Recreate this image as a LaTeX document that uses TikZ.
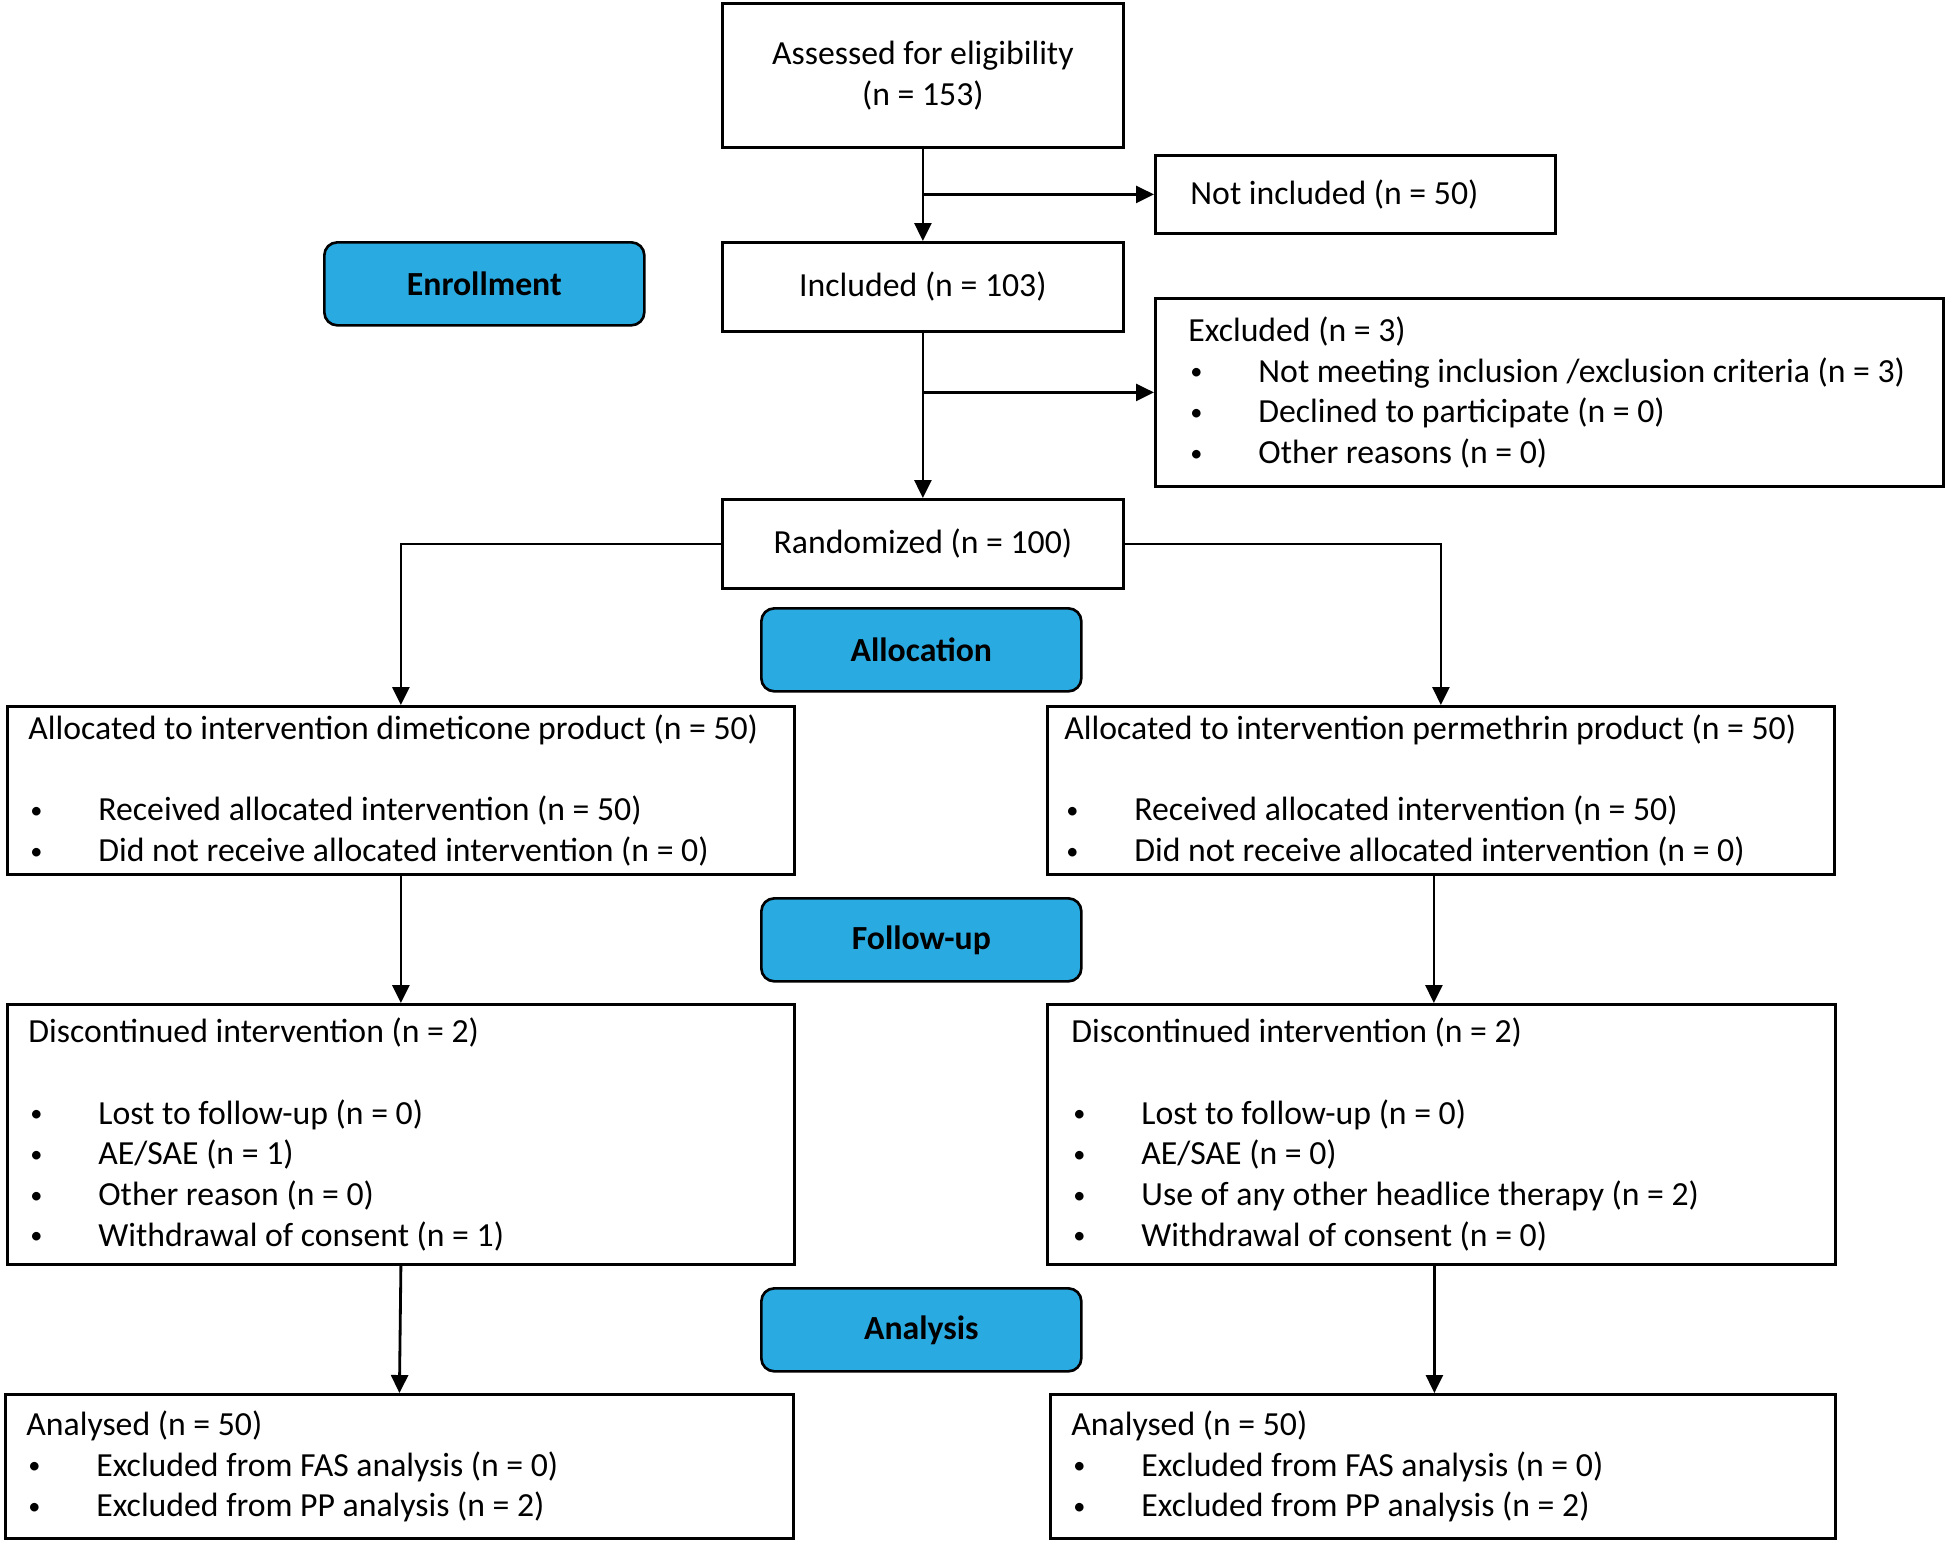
\documentclass[tikz,border=0pt]{standalone}
\usepackage{fontspec}
\setmainfont{Carlito}
\usetikzlibrary{arrows.meta}
\definecolor{stage}{RGB}{41,171,226}
\newcommand{\bitem}{\makebox[0.70cm][l]{\hspace*{0.02cm}\raisebox{0.15ex}{\scalebox{0.72}{\textbullet}}}}

\begin{document}
\begin{tikzpicture}[font=\fontsize{9.6}{11.6}\selectfont, box/.style = {draw, line width=0.8pt, anchor=north west, inner ysep=0pt, inner xsep=0.21cm, align=flush left}, cbox/.style = {box, align=flush center}, stagebox/.style = {draw, line width=0.75pt, fill=stage, rounded corners=0.13cm, anchor=north west, minimum width=3.2cm, minimum height=0.83cm, font=\fontsize{9.6}{11.6}\selectfont\bfseries}, arr/.style = {-{Triangle[length=0.18cm, width=0.17cm]}, line width=0.8pt}]
                \useasboundingbox (0,0) rectangle (19.46,-15.40);
                \node[cbox, minimum width=4.01cm, minimum height=1.44cm] (assess) at (7.21,-0.02) {Assessed for eligibility\\(n = 153)};
                \node[box, text width=3.30cm, inner xsep=0.35cm, minimum height=0.78cm] (notincl) at (11.54,-1.54) {Not included (n = 50)};
                \node[stagebox] (enroll) at (3.23,-2.41) {Enrollment};
                \node[cbox, minimum width=4.01cm, minimum height=0.89cm] (incl) at (7.21,-2.41) {Included (n = 103)};
                \node[box, text width=7.22cm, inner xsep=0.33cm, minimum height=1.88cm] (excl) at (11.54,-2.97) {Excluded (n = 3)\\\bitem Not meeting inclusion /exclusion criteria (n = 3)\\\bitem Declined to participate (n = 0)\\\bitem Other reasons (n = 0)};
                \node[cbox, minimum width=4.01cm, minimum height=0.89cm] (rand) at (7.21,-4.98) {Randomized (n = 100)};
                \node[stagebox] (alloc) at (7.60,-6.07) {Allocation};
                \node[box, text width=7.45cm, minimum height=1.68cm] (lalloc) at (0.06,-7.05) {Allocated to intervention dimeticone product (n = 50)\\[11.6pt]\bitem Received allocated intervention (n = 50)\\\bitem Did not receive allocated intervention (n = 0)};
                \node[box, text width=7.53cm, inner xsep=0.17cm, minimum height=1.68cm] (ralloc) at (10.46,-7.05) {Allocated to intervention permethrin product (n = 50)\\[11.6pt]\bitem Received allocated intervention (n = 50)\\\bitem Did not receive allocated intervention (n = 0)};
                \node[stagebox] (follow) at (7.60,-8.97) {Follow-up};
                \node[box, text width=7.45cm, minimum height=2.60cm] (ldisc) at (0.06,-10.03) {Discontinued intervention (n = 2)\\[11.6pt]\bitem Lost to follow-up (n = 0)\\\bitem AE/SAE (n = 1)\\\bitem Other reason (n = 0)\\\bitem Withdrawal of consent (n = 1)};
                \node[box, text width=7.40cm, inner xsep=0.24cm, minimum height=2.60cm] (rdisc) at (10.46,-10.03) {Discontinued intervention (n = 2)\\[11.6pt]\bitem Lost to follow-up (n = 0)\\\bitem AE/SAE (n = 0)\\\bitem Use of any other headlice therapy (n = 2)\\\bitem Withdrawal of consent (n = 0)};
                \node[stagebox] (analysis) at (7.60,-12.87) {Analysis};
                \node[box, text width=7.46cm, minimum height=1.44cm] (lana) at (0.04,-13.93) {Analysed (n = 50)\\\bitem Excluded from FAS analysis (n = 0)\\\bitem Excluded from PP analysis (n = 2)};
                \node[box, text width=7.43cm, minimum height=1.44cm] (rana) at (10.49,-13.93) {Analysed (n = 50)\\\bitem Excluded from FAS analysis (n = 0)\\\bitem Excluded from PP analysis (n = 2)};
                \draw[arr] (assess.south) -- (incl.north);
                \draw[arr] (assess.south |- notincl.west) -- (notincl.west);
                \draw[arr] (incl.south) -- (rand.north);
                \draw[arr] (incl.south |- excl.west) -- (excl.west);
                \draw[arr] (rand.west) -| (lalloc.north);
                \draw[arr] (rand.east) -| (ralloc.north);
                \draw[arr] (lalloc.south) -- (ldisc.north);
                \draw[arr] ([xshift=-0.07cm]ralloc.south) -- ([xshift=-0.07cm]ralloc.south |- rdisc.north);
                \draw[arr] (ldisc.south) -- (lana.north);
                \draw[arr] ([xshift=-0.07cm]rdisc.south) -- ([xshift=-0.07cm]rdisc.south |- rana.north);
            \end{tikzpicture}
\end{document}
